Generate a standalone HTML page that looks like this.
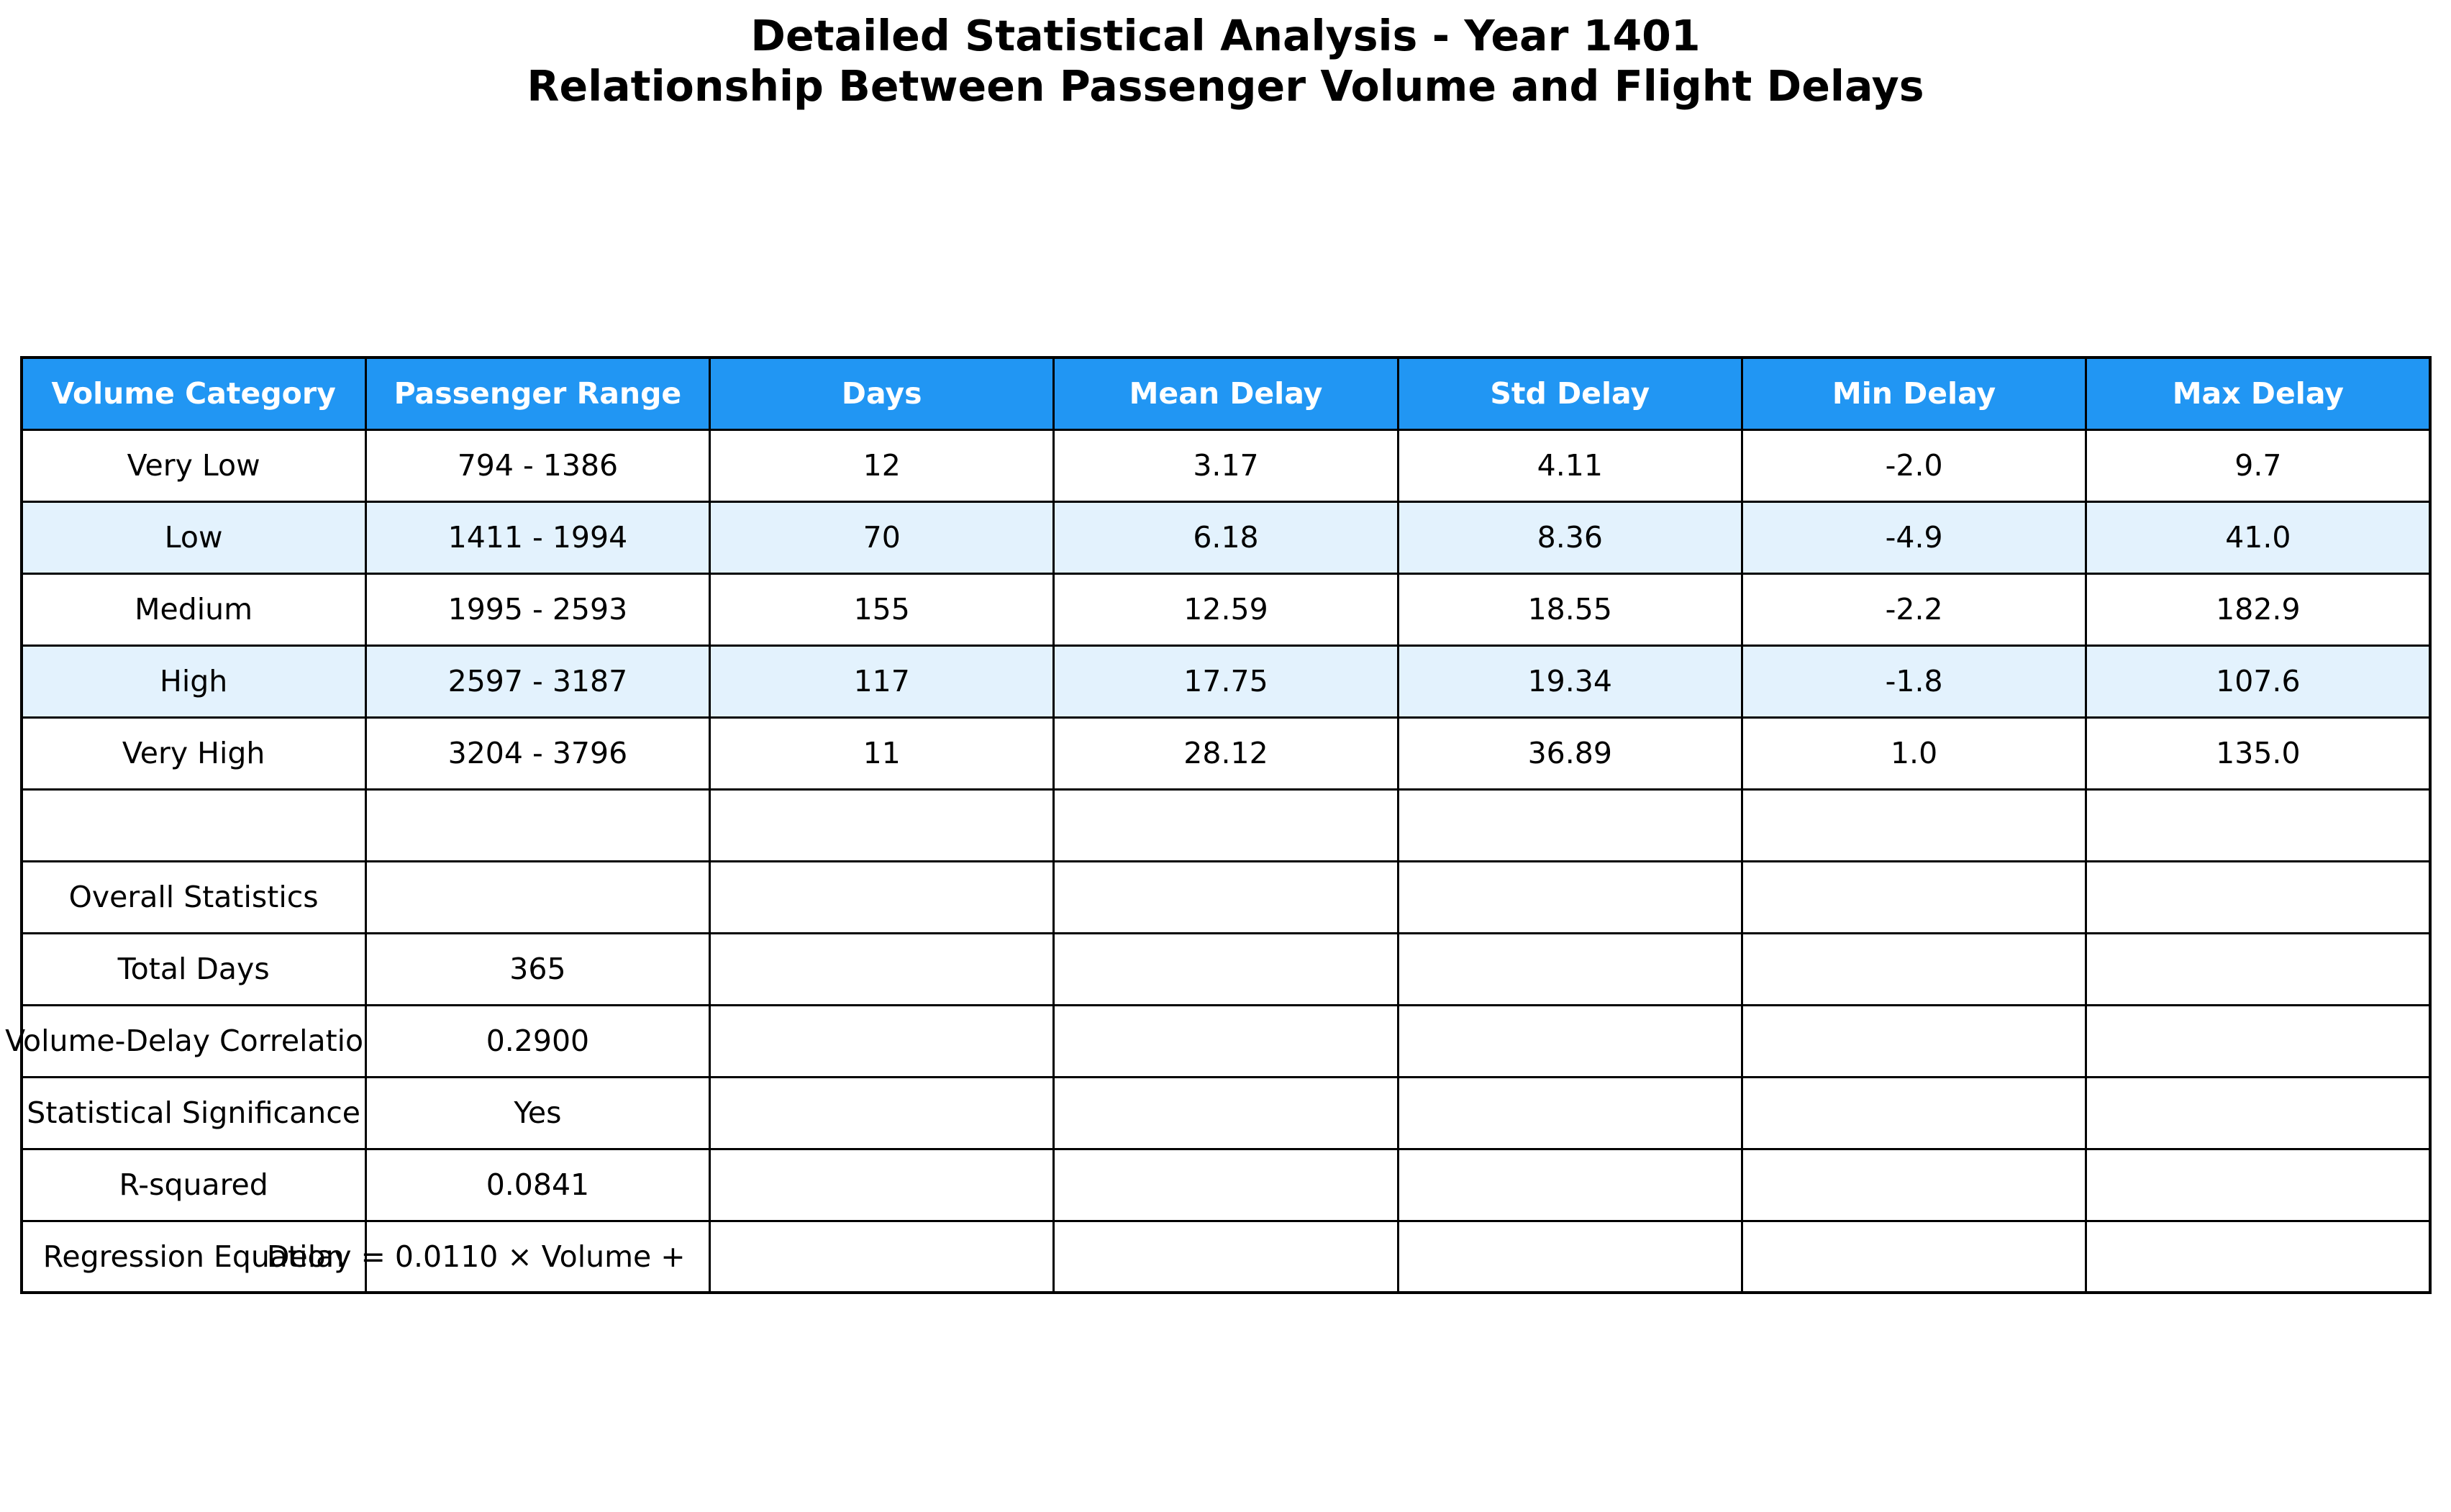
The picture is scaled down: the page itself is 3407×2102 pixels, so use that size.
<!DOCTYPE html>
<html><head><meta charset="utf-8">
<style>
html,body{margin:0;padding:0;background:#fff;}
body{width:3407px;height:2102px;position:relative;overflow:hidden;font-family:"DejaVu Sans","Liberation Sans",sans-serif;}
.title{position:absolute;left:0;width:3407px;text-align:center;font-weight:bold;font-size:58.5px;color:#000;white-space:nowrap;}
.cell{position:absolute;box-sizing:border-box;border:3px solid #000;display:flex;align-items:center;justify-content:center;white-space:nowrap;font-size:41px;color:#000;}
.cell span{display:block;white-space:pre;}
.hdr{background:#2196F3;color:#fff;font-weight:bold;}
.hid{visibility:hidden;display:inline !important;}
</style></head>
<body>
<div class="title" style="top:16px;">Detailed Statistical Analysis - Year 1401</div>
<div class="title" style="top:86px;">Relationship Between Passenger Volume and Flight Delays</div>
<div id="table"></div>
<script>
const headers = ["Volume Category","Passenger Range","Days","Mean Delay","Std Delay","Min Delay","Max Delay"];
const categories = ["Very Low","Low","Medium","High","Very High"];
const ranges = ["794 - 1386","1411 - 1994","1995 - 2593","2597 - 3187","3204 - 3796"];
const days = ["12","70","155","117","11"];
const meanDelay = ["3.17","6.18","12.59","17.75","28.12"];
const stdDelay = ["4.11","8.36","18.55","19.34","36.89"];
const minDelay = ["-2.0","-4.9","-2.2","-1.8","1.0"];
const maxDelay = ["9.7","41.0","182.9","107.6","135.0"];
const overallLabels = ["","Overall Statistics","Total Days","Volume-Delay Correlation","Statistical Significance","R-squared","Regression Equation"];
const overallValues = ["","","365","0.2900","Yes","0.0841","Delay = 0.0110 × Volume + |-10.861"];

const left = 30, top0 = 497, colW = (3378 - 30) / 7, rowH = 100;
const rows = [headers];
for (let i = 0; i < categories.length; i++) {
  rows.push([categories[i], ranges[i], days[i], meanDelay[i], stdDelay[i], minDelay[i], maxDelay[i]]);
}
for (let i = 0; i < overallLabels.length; i++) {
  rows.push([overallLabels[i], overallValues[i], "", "", "", "", ""]);
}
const table = document.getElementById('table');
rows.forEach((row, r) => {
  row.forEach((txt, c) => {
    const el = document.createElement('div');
    
    
    el.className = 'cell' + (r === 0 ? ' hdr' : '');
    const x = left + c * colW, y = top0 + r * rowH;
    el.style.left = (x - 1.5) + 'px';
    el.style.top = (y - 1.5) + 'px';
    el.style.width = (colW + 3) + 'px';
    el.style.height = (rowH + 3) + 'px';
    if (r > 0) el.style.background = (r === 2 || r === 4) ? '#E3F2FD' : '#FFFFFF';
    const s = document.createElement('span');
    const parts = txt.split('|');
    s.textContent = parts[0];
    if (parts.length > 1) {
      const h = document.createElement('span');
      h.className = 'hid';
      h.textContent = parts[1];
      s.appendChild(h);
    }
    el.appendChild(s);
    table.appendChild(el);
  });
});
const outer = document.createElement('div');


outer.style.cssText = 'position:absolute;box-sizing:border-box;border:4px solid #000;left:' + (left - 2) + 'px;top:' + (top0 - 2) + 'px;width:' + (3378 - 30 + 4) + 'px;height:' + (rows.length * rowH + 4) + 'px;';
table.appendChild(outer);
</script>
</body></html>
